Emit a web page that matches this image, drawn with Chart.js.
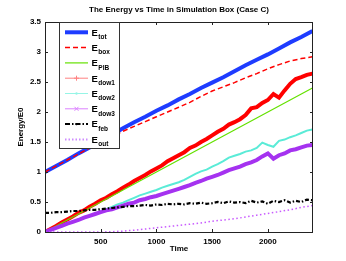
<!DOCTYPE html>
<html>
<head>
<meta charset="utf-8">
<script src="https://cdn.jsdelivr.net/npm/chart.js@4.4.1/dist/chart.umd.min.js"></script>
<style>
  html, body { margin: 0; padding: 0; background: #fff; }
  #wrap { width: 346px; height: 261px; }
</style>
</head>
<body>
<div id="wrap"><canvas id="energyChart" width="346" height="261"></canvas></div>
<script>
// time axes (coarse for the smooth curves, fine for the noisy ones)
const timeCoarse = [0, 100, 200, 300, 400, 500, 600, 700, 800, 900, 1000, 1100, 1200,
    1300, 1400, 1500, 1600, 1700, 1800, 1900, 2000, 2100, 2200, 2300, 2400];
const timeFine = [0, 50, 100, 150, 200, 250, 300, 350, 400, 450, 500, 550, 600, 650, 700, 750,
    800, 850, 900, 950, 1000, 1050, 1100, 1150, 1200, 1250, 1300, 1350, 1400, 1450, 1500, 1550,
    1600, 1650, 1700, 1750, 1800, 1850, 1900, 1950, 2000, 2050, 2100, 2150, 2200, 2250, 2300,
    2350, 2400];

const eTot = [1.00, 1.10, 1.20, 1.31, 1.41, 1.52, 1.62, 1.73, 1.83, 1.92, 2.02, 2.11, 2.21,
    2.30, 2.40, 2.49, 2.58, 2.68, 2.78, 2.87, 2.96, 3.06, 3.16, 3.25, 3.35];
const eBox = [1.00, 1.10, 1.20, 1.30, 1.40, 1.49, 1.59, 1.68, 1.76, 1.84, 1.92, 2.00, 2.08,
    2.16, 2.26, 2.35, 2.42, 2.49, 2.57, 2.64, 2.72, 2.79, 2.85, 2.89, 2.92];
const ePIB = [0.00, 0.10, 0.20, 0.30, 0.40, 0.50, 0.60, 0.70, 0.80, 0.90, 1.00, 1.10, 1.20,
    1.30, 1.40, 1.50, 1.60, 1.70, 1.80, 1.90, 2.00, 2.10, 2.20, 2.30, 2.40];
const eOut = [0.00, 0.00, 0.00, 0.00, 0.00, 0.00, 0.005, 0.015, 0.03, 0.05, 0.07, 0.09, 0.11,
    0.13, 0.15, 0.18, 0.20, 0.22, 0.25, 0.28, 0.31, 0.34, 0.37, 0.41, 0.44];

const eDow1 = [0.00, 0.05, 0.10, 0.16, 0.21, 0.26, 0.32, 0.36, 0.42, 0.47, 0.53, 0.57, 0.63,
    0.68, 0.74, 0.79, 0.85, 0.90, 0.95, 1.01, 1.06, 1.11, 1.18, 1.23, 1.28, 1.33, 1.40, 1.44,
    1.50, 1.55, 1.61, 1.67, 1.72, 1.79, 1.83, 1.88, 1.95, 2.06, 2.08, 2.15, 2.20, 2.30, 2.24,
    2.36, 2.47, 2.55, 2.58, 2.62, 2.64];
const eDow2 = [0.00, 0.035, 0.07, 0.105, 0.14, 0.175, 0.21, 0.24, 0.27, 0.31, 0.34, 0.38, 0.42,
    0.46, 0.49, 0.53, 0.57, 0.61, 0.64, 0.67, 0.70, 0.74, 0.77, 0.80, 0.83, 0.87, 0.92, 0.97,
    1.01, 1.04, 1.09, 1.13, 1.18, 1.24, 1.27, 1.30, 1.34, 1.36, 1.40, 1.49, 1.45, 1.42, 1.52,
    1.54, 1.58, 1.61, 1.65, 1.69, 1.71];
const eDow3 = [0.00, 0.035, 0.07, 0.10, 0.14, 0.17, 0.20, 0.24, 0.27, 0.30, 0.33, 0.36, 0.38,
    0.41, 0.44, 0.47, 0.49, 0.53, 0.55, 0.58, 0.60, 0.63, 0.66, 0.69, 0.72, 0.75, 0.78, 0.82,
    0.85, 0.89, 0.92, 0.95, 0.99, 1.03, 1.06, 1.09, 1.13, 1.16, 1.20, 1.26, 1.31, 1.22, 1.28,
    1.31, 1.36, 1.38, 1.41, 1.44, 1.45];
const eFeb = [0.32, 0.32, 0.33, 0.33, 0.34, 0.35, 0.35, 0.36, 0.37, 0.37, 0.38, 0.39, 0.40,
    0.41, 0.42, 0.43, 0.43, 0.44, 0.45, 0.44, 0.46, 0.45, 0.47, 0.46, 0.47, 0.46, 0.48, 0.47,
    0.49, 0.47, 0.48, 0.50, 0.48, 0.51, 0.49, 0.50, 0.48, 0.52, 0.49, 0.51, 0.47, 0.52, 0.50,
    0.53, 0.49, 0.52, 0.50, 0.54, 0.53];

const xTicks = [500, 1000, 1500, 2000];
const yTicks = [0, 0.5, 1, 1.5, 2, 2.5, 3, 3.5];
const seriesNames = ["tot", "box", "PIB", "dow1", "dow2", "dow3", "feb", "out"];

const FONT = "Liberation Sans, Arial, Helvetica, sans-serif";

const toPoints = (times, values) => times.map((t, i) => ({ x: t, y: values[i] }));

// legend look for each series: line colour, dash, width, marker
const legendStyles = [
    { color: "rgb(30,60,255)", width: 4, dash: [] },
    { color: "rgb(255,0,0)", width: 1.5, dash: [5, 3] },
    { color: "rgb(100,225,0)", width: 1.2, dash: [] },
    { color: "rgb(255,130,130)", width: 1, dash: [], marker: "plus" },
    { color: "rgb(150,245,230)", width: 1, dash: [], marker: "dot" },
    { color: "rgb(220,130,255)", width: 1, dash: [], marker: "x" },
    { color: "rgb(0,0,0)", width: 2, dash: [5, 2, 1.5, 2], marker: "dot" },
    { color: "rgb(205,140,255)", width: 2, dash: [1.5, 2] }
];

const decorPlugin = {
    id: "decor",
    afterDraw(chart) {
        const { ctx, chartArea: a, scales } = chart;
        ctx.save();

        // frame and inward ticks, matlab style
        ctx.strokeStyle = "#222";
        ctx.lineWidth = 1;
        ctx.strokeRect(Math.round(a.left) + 0.5, Math.round(a.top) + 0.5,
            Math.round(a.right - a.left) - 1, Math.round(a.bottom - a.top));
        ctx.beginPath();
        xTicks.forEach(v => {
            const px = Math.round(scales.x.getPixelForValue(v)) + 0.5;
            ctx.moveTo(px, a.bottom); ctx.lineTo(px, a.bottom - 3);
            ctx.moveTo(px, a.top); ctx.lineTo(px, a.top + 3);
        });
        yTicks.forEach(v => {
            const py = Math.round(scales.y.getPixelForValue(v)) + 0.5;
            ctx.moveTo(a.left, py); ctx.lineTo(a.left + 3, py);
            ctx.moveTo(a.right, py); ctx.lineTo(a.right - 3, py);
        });
        ctx.stroke();

        // title and axis labels
        ctx.fillStyle = "#000";
        ctx.textAlign = "center";
        ctx.textBaseline = "middle";
        ctx.font = "bold 8px " + FONT;
        ctx.fillText("The Energy vs Time in Simulation Box (Case C)", (a.left + a.right) / 2, 10);
        ctx.fillText("Time", (a.left + a.right) / 2, 249);
        ctx.save();
        ctx.translate(21, (a.top + a.bottom) / 2);
        ctx.rotate(-Math.PI / 2);
        ctx.fillText("Energy/E0", 0, 0);
        ctx.restore();

        // legend box
        const bx = 59.5, by = 22.5, bw = 60, bh = 126;
        ctx.fillStyle = "#fff";
        ctx.fillRect(bx, by, bw, bh);
        ctx.strokeStyle = "#333";
        ctx.strokeRect(bx, by, bw, bh);

        seriesNames.forEach((name, i) => {
            const st = legendStyles[i];
            const y = 32.3 + i * 15.3;
            ctx.strokeStyle = st.color;
            ctx.lineWidth = st.width;
            ctx.setLineDash(st.dash);
            ctx.beginPath();
            ctx.moveTo(65, y); ctx.lineTo(88, y);
            ctx.stroke();
            ctx.setLineDash([]);
            ctx.lineWidth = 1;
            const cx = 76.5;
            if (st.marker === "plus") {
                ctx.beginPath();
                ctx.moveTo(cx - 2.5, y); ctx.lineTo(cx + 2.5, y);
                ctx.moveTo(cx, y - 2.5); ctx.lineTo(cx, y + 2.5);
                ctx.stroke();
            } else if (st.marker === "x") {
                ctx.beginPath();
                ctx.moveTo(cx - 2, y - 2); ctx.lineTo(cx + 2, y + 2);
                ctx.moveTo(cx - 2, y + 2); ctx.lineTo(cx + 2, y - 2);
                ctx.stroke();
            } else if (st.marker === "dot") {
                ctx.fillStyle = st.color;
                ctx.beginPath();
                ctx.arc(cx, y, 1.2, 0, Math.PI * 2);
                ctx.fill();
            }
            ctx.fillStyle = "#000";
            ctx.textAlign = "left";
            ctx.textBaseline = "alphabetic";
            ctx.font = "bold 9.5px " + FONT;
            ctx.fillText("E", 91.5, y + 3.3);
            const w = ctx.measureText("E").width;
            ctx.font = "bold 6.5px " + FONT;
            ctx.fillText(name, 91.5 + w + 0.5, y + 6.8);
        });
        ctx.restore();
    }
};

new Chart(document.getElementById("energyChart"), {
    type: "line",
    data: {
        datasets: [
            { label: "Eout", data: toPoints(timeCoarse, eOut), borderColor: "rgb(200,90,255)",
              borderWidth: 1.5, borderDash: [1.5, 2.5] },
            { label: "Efeb", data: toPoints(timeFine, eFeb), borderColor: "rgb(0,0,0)",
              borderWidth: 2.2, borderDash: [4, 2, 1.5, 2] },
            { label: "Edow3", data: toPoints(timeFine, eDow3), borderColor: "rgb(165,50,240)",
              borderWidth: 4 },
            { label: "Edow2", data: toPoints(timeFine, eDow2), borderColor: "rgb(90,235,215)",
              borderWidth: 2 },
            { label: "EPIB", data: toPoints(timeCoarse, ePIB), borderColor: "rgb(100,225,0)",
              borderWidth: 1.2 },
            { label: "Edow1", data: toPoints(timeFine, eDow1), borderColor: "rgb(255,0,0)",
              borderWidth: 4 },
            { label: "Ebox", data: toPoints(timeCoarse, eBox), borderColor: "rgb(255,0,0)",
              borderWidth: 1.5, borderDash: [5, 3] },
            { label: "Etot", data: toPoints(timeCoarse, eTot), borderColor: "rgb(30,60,255)",
              borderWidth: 4 }
        ].map(ds => Object.assign(ds, { pointRadius: 0, tension: 0, fill: false }))
    },
    options: {
        responsive: false,
        animation: false,
        layout: { padding: { top: 22, right: 33, left: 0, bottom: 0 } },
        plugins: { legend: { display: false }, title: { display: false }, tooltip: { enabled: false } },
        scales: {
            x: {
                type: "linear",
                min: 0,
                max: 2405,
                afterFit: s => { s.height = 29; },
                afterBuildTicks: s => { s.ticks = xTicks.map(v => ({ value: v })); },
                grid: { display: false, drawTicks: false, tickLength: 0 },
                border: { display: false },
                ticks: { padding: 5, color: "#000", font: { family: FONT, size: 8, weight: "bold" },
                         maxRotation: 0, callback: v => String(v) }
            },
            y: {
                type: "linear",
                min: 0,
                max: 3.5,
                afterFit: s => { s.width = 45; },
                afterBuildTicks: s => { s.ticks = yTicks.map(v => ({ value: v })); },
                grid: { display: false, drawTicks: false, tickLength: 0 },
                border: { display: false },
                ticks: { padding: 4, color: "#000", font: { family: FONT, size: 8, weight: "bold" },
                         callback: v => String(v) }
            }
        }
    },
    plugins: [decorPlugin]
});
</script>
</body>
</html>
